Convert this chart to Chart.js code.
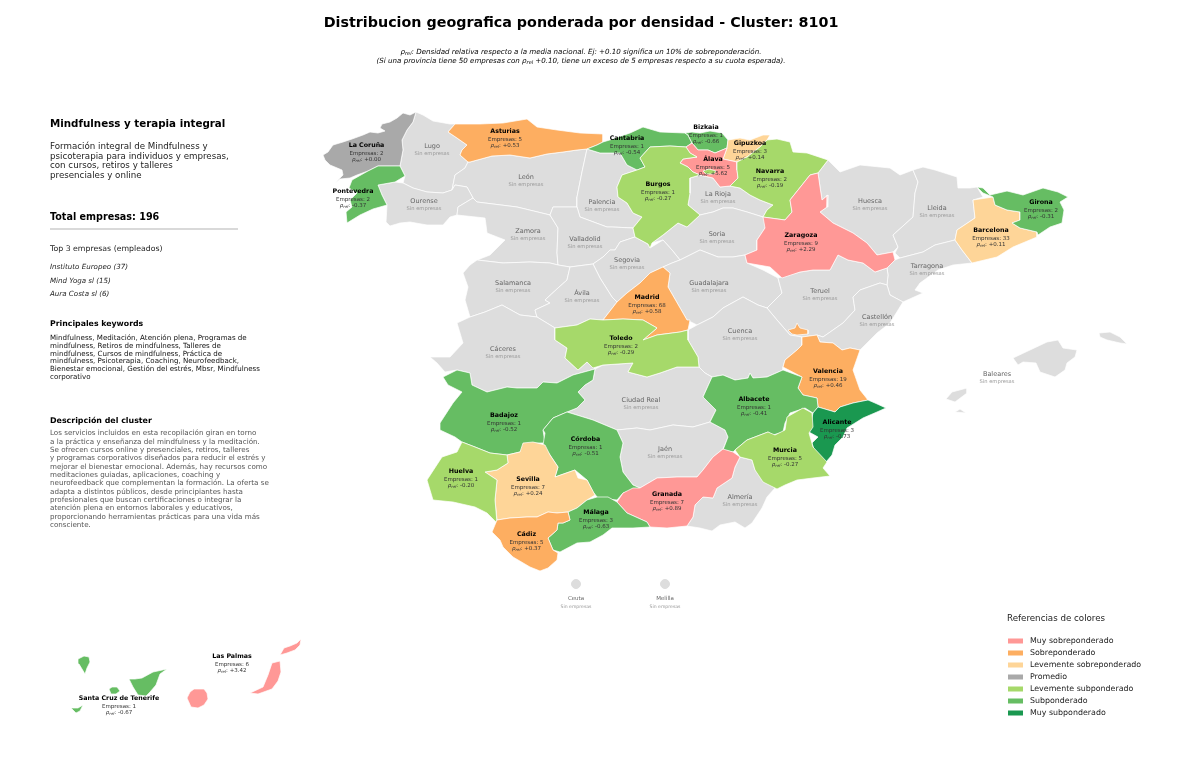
<!DOCTYPE html>
<html>
<head>
<meta charset="utf-8">
<title>Cluster 8101</title>
<style>
    html, body { margin: 0; padding: 0; background: #fff; }
    canvas { display: block; }
</style>
<script src="https://cdn.jsdelivr.net/npm/chart.js@4"></script>
</head>
<body>
<canvas id="mapChart" width="1200" height="761"></canvas>
<script>
const classNames = ['Muy sobreponderado', 'Sobreponderado', 'Levemente sobreponderado', 'Promedio', 'Levemente subponderado', 'Subponderado', 'Muy subponderado']
const classColors = ['#ff9896', '#fdae61', '#fed598', '#a9a9a9', '#a6d96a', '#66bd63', '#1a9850']
const emptyColor = '#dddddd'

// provinces with companies
const activeNames = ['La Coruña', 'Pontevedra', 'Asturias', 'Cantabria', 'Bizkaia', 'Gipuzkoa', 'Álava', 'Navarra', 'Burgos', 'Zaragoza', 'Barcelona', 'Girona', 'Madrid', 'Toledo', 'Valencia', 'Albacete', 'Alicante', 'Murcia', 'Badajoz', 'Córdoba', 'Sevilla', 'Huelva', 'Granada', 'Málaga', 'Cádiz', 'Las Palmas', 'Santa Cruz de Tenerife']
const activeCompanies = [2, 2, 5, 1, 1, 3, 5, 2, 1, 9, 33, 2, 68, 2, 19, 1, 3, 5, 1, 1, 7, 1, 7, 3, 5, 6, 1]
const activeRho = [0.00, -0.37, 0.53, -0.54, -0.66, 0.14, 5.62, -0.19, -0.27, 2.29, 0.11, -0.31, 0.58, -0.29, 0.46, -0.41, -0.73, -0.27, -0.52, -0.51, 0.24, -0.20, 0.89, -0.63, 0.37, 3.42, -0.67]
const activeClass = [3, 5, 1, 5, 5, 2, 0, 4, 4, 0, 2, 5, 1, 4, 1, 5, 6, 4, 5, 5, 2, 4, 0, 5, 1, 0, 5]

const emptyNames = ['Lugo', 'León', 'Ourense', 'Palencia', 'La Rioja', 'Huesca', 'Lleida', 'Zamora', 'Valladolid', 'Soria', 'Segovia', 'Tarragona', 'Salamanca', 'Ávila', 'Guadalajara', 'Teruel', 'Castellón', 'Cuenca', 'Cáceres', 'Ciudad Real', 'Jaén', 'Almería', 'Baleares', 'Ceuta', 'Melilla']

// outlines
const laCoruna = [[416,112],[410,115],[403,113],[397,118],[390,122],[382,124],[380,128],[385,131],[378,133],[370,132],[363,135],[352,139],[343,142],[333,145],[328,152],[323,155],[325,160],[330,165],[342,170],[343,175],[335,183],[340,179],[350,178],[357,175],[368,171],[378,166],[400,166],[403,150],[402,140],[407,130],[413,122]]
const pontevedra = [[378,166],[400,166],[405,176],[395,182],[378,185],[382,195],[387,205],[373,209],[360,215],[347,223],[346,212],[352,207],[350,200],[357,193],[349,188],[352,180],[368,171]]
const lugo = [[416,112],[423,115],[433,121],[450,124],[455,124],[448,132],[457,138],[467,145],[462,150],[460,155],[468,162],[465,168],[455,175],[452,190],[443,193],[427,192],[413,188],[403,183],[405,176],[400,166],[403,150],[402,140],[407,130],[413,122]]
const ourense = [[403,183],[413,188],[427,192],[443,193],[452,190],[455,185],[467,187],[473,198],[458,207],[457,215],[450,217],[443,225],[427,225],[410,222],[400,223],[390,226],[386,222],[387,205],[382,195],[378,185],[395,182]]
const asturias = [[448,132],[455,124],[480,124],[503,123],[527,119],[537,127],[557,130],[580,133],[603,134],[603,142],[597,145],[587,149],[577,150],[563,152],[547,154],[530,158],[510,155],[492,156],[470,162],[468,162],[460,155],[462,150],[467,145],[457,138]]
const cantabria = [[587,149],[597,145],[603,142],[613,139],[630,133],[643,127],[660,132],[685,133],[688,135],[692,143],[686,147],[670,146],[650,147],[640,158],[645,167],[637,170],[627,165],[620,153],[600,153]]
const bizkaia = [[685,133],[692,132],[700,133],[710,131],[722,133],[728,140],[727,148],[715,153],[708,150],[698,150],[692,143],[688,135]]
const gipuzkoa = [[728,140],[740,138],[750,140],[763,135],[770,135],[767,140],[760,147],[747,157],[737,162],[723,159],[727,148]]
const navarra = [[767,140],[777,139],[790,142],[793,152],[807,153],[828,160],[818,173],[810,175],[798,190],[790,200],[792,212],[785,220],[763,217],[767,210],[773,205],[760,200],[750,195],[740,188],[730,186],[738,178],[737,170],[737,162],[747,157],[760,147]]
const alava = [[686,147],[692,143],[698,150],[708,150],[715,153],[727,148],[723,159],[737,162],[737,170],[738,178],[730,186],[720,187],[713,178],[700,175],[693,172],[688,167],[680,163],[683,159],[697,157],[690,153]]
const trevino = [[703,171],[709,169],[716,171],[714,174],[706,174]]
const laRioja = [[690,178],[700,175],[713,178],[720,187],[730,186],[740,188],[750,195],[760,200],[773,205],[767,210],[763,217],[747,212],[733,208],[723,208],[713,212],[700,215],[688,205],[690,193]]
const burgos = [[640,158],[650,147],[670,146],[686,147],[690,153],[697,157],[683,159],[680,163],[688,167],[693,172],[700,175],[690,178],[690,193],[688,205],[700,215],[687,227],[678,223],[663,235],[652,243],[650,248],[648,244],[635,237],[633,228],[642,217],[633,213],[627,203],[618,197],[617,187],[622,175],[637,170],[645,167]]
const leon = [[468,162],[470,162],[492,156],[510,155],[530,158],[547,154],[563,152],[577,150],[587,149],[582,172],[577,197],[577,207],[553,207],[550,215],[517,207],[477,202],[473,198],[467,187],[455,185],[452,190],[455,175],[465,168]]
const palencia = [[587,149],[600,153],[620,153],[627,165],[637,170],[622,175],[617,187],[618,197],[627,203],[633,213],[642,217],[633,228],[612,227],[607,227],[580,217],[577,207],[577,197],[582,172]]
const valladolid = [[553,207],[577,207],[580,217],[607,227],[612,227],[633,228],[635,237],[620,242],[615,250],[610,250],[603,257],[593,264],[570,267],[558,265],[557,253],[558,228],[550,215]]
const zamora = [[473,198],[477,202],[517,207],[550,215],[558,228],[557,253],[558,265],[550,263],[530,262],[503,263],[477,260],[490,255],[505,240],[487,233],[486,225],[485,218],[457,215],[458,207]]
const salamanca = [[463,273],[470,265],[477,260],[503,263],[530,262],[550,263],[558,265],[570,267],[567,280],[558,288],[545,300],[550,303],[535,310],[537,317],[520,315],[502,305],[485,312],[470,317],[465,300],[468,287]]
const avila = [[570,267],[593,264],[600,278],[612,297],[617,302],[603,320],[590,319],[577,325],[555,328],[537,317],[535,310],[550,303],[545,300],[558,288],[567,280]]
const segovia = [[593,264],[603,257],[610,250],[615,250],[620,242],[635,237],[648,244],[650,248],[663,240],[672,250],[680,260],[672,263],[663,267],[650,273],[640,283],[627,293],[617,302],[612,297],[600,278]]
const madrid = [[663,267],[670,273],[668,287],[687,320],[690,320],[688,330],[680,332],[657,335],[643,340],[657,328],[643,320],[623,319],[603,320],[617,302],[627,293],[640,283],[650,273]]
const soria = [[687,227],[700,215],[713,212],[723,208],[733,208],[747,212],[763,217],[767,223],[765,228],[757,240],[757,250],[745,255],[733,257],[718,257],[700,250],[680,260],[672,250],[663,240],[652,243],[663,235],[678,223]]
const guadalajara = [[663,267],[672,263],[680,260],[700,250],[718,257],[733,257],[745,255],[747,263],[763,270],[778,278],[782,293],[767,308],[758,305],[743,297],[723,308],[713,317],[697,325],[687,320],[668,287],[670,273]]
const zaragoza = [[818,173],[820,187],[822,200],[828,195],[827,207],[820,212],[833,223],[853,233],[867,243],[877,255],[893,252],[895,260],[887,268],[875,272],[863,263],[848,260],[838,255],[830,270],[813,270],[800,272],[782,278],[770,267],[747,263],[745,255],[757,250],[757,240],[765,228],[763,217],[785,220],[792,212],[790,200],[798,190],[810,175]]
const huesca = [[828,160],[840,172],[860,165],[890,168],[900,175],[913,170],[918,182],[915,193],[913,217],[893,235],[898,247],[893,252],[877,255],[867,243],[853,233],[833,223],[820,212],[827,207],[828,195],[822,200],[820,187],[818,173]]
const lleida = [[913,170],[923,167],[935,170],[957,177],[958,188],[970,188],[977,187],[983,197],[973,200],[975,218],[957,230],[955,240],[935,245],[923,252],[900,258],[895,253],[898,247],[893,235],[913,217],[915,193],[918,182]]
const tarragona = [[895,260],[900,258],[923,252],[935,245],[955,240],[962,250],[972,263],[953,265],[938,270],[920,283],[915,290],[923,293],[903,302],[890,295],[887,285],[888,275],[887,268]]
const barcelona = [[973,200],[993,197],[995,205],[1007,210],[1020,212],[1020,220],[1012,223],[1020,228],[1037,232],[1037,237],[1013,247],[997,257],[972,263],[962,250],[955,240],[957,230],[975,218]]
const girona = [[977,187],[983,188],[990,195],[1007,191],[1023,195],[1043,188],[1058,192],[1068,197],[1060,202],[1064,210],[1062,223],[1050,227],[1038,235],[1037,232],[1020,228],[1012,223],[1020,220],[1020,212],[1007,210],[995,205],[993,197],[983,193]]
const teruel = [[778,278],[800,272],[813,270],[830,270],[838,255],[848,260],[863,263],[875,272],[887,268],[888,275],[887,285],[880,283],[860,290],[853,297],[855,310],[843,323],[823,337],[817,335],[802,337],[790,335],[777,320],[767,308],[782,293]]
const ademuz = [[788,330],[795,328],[797,323],[800,328],[808,330],[808,334],[797,335],[792,334]]
const castellon = [[860,290],[880,283],[887,285],[890,295],[903,302],[890,323],[877,333],[867,343],[860,350],[850,348],[842,350],[833,343],[820,342],[817,335],[823,337],[843,323],[855,310],[853,297]]
const valencia = [[802,337],[817,335],[820,342],[833,343],[842,350],[850,348],[860,350],[853,370],[860,390],[868,400],[853,403],[840,407],[835,412],[818,407],[817,398],[803,395],[798,388],[802,377],[783,367],[785,360],[797,350],[802,345]]
const cuenca = [[688,330],[697,325],[713,317],[723,308],[743,297],[758,305],[767,308],[777,320],[790,335],[802,337],[802,345],[797,350],[785,360],[783,367],[783,370],[767,377],[753,378],[750,373],[748,378],[735,380],[723,375],[712,377],[705,373],[699,367],[698,357],[688,340]]
const toledo = [[555,328],[577,325],[590,319],[603,320],[623,319],[643,320],[657,328],[643,340],[657,335],[680,332],[688,330],[688,340],[698,357],[699,367],[677,367],[660,373],[647,377],[628,372],[633,363],[603,365],[593,368],[587,362],[578,370],[565,358],[567,348],[555,340]]
const caceres = [[470,317],[485,312],[502,305],[520,315],[537,317],[555,328],[555,340],[567,348],[565,358],[578,370],[587,362],[595,369],[573,375],[557,383],[543,382],[537,388],[517,388],[507,387],[487,392],[472,385],[470,373],[457,370],[445,372],[437,363],[430,357],[450,357],[463,343],[457,323]]
const badajoz = [[443,377],[457,370],[470,373],[472,385],[487,392],[507,387],[517,388],[537,388],[543,382],[557,383],[573,375],[595,369],[593,380],[585,385],[578,392],[585,400],[577,408],[567,412],[553,418],[543,430],[545,443],[533,443],[520,452],[507,455],[490,453],[475,447],[462,442],[455,437],[440,430],[440,423],[453,403],[462,392],[448,385]]
const ciudadReal = [[595,369],[603,365],[633,363],[628,372],[647,377],[660,373],[677,367],[699,367],[705,373],[712,377],[703,397],[716,410],[710,422],[693,427],[673,425],[650,430],[637,428],[617,430],[593,420],[567,412],[577,408],[585,400],[578,392],[585,385],[593,380]]
const albacete = [[712,377],[723,375],[735,380],[748,378],[750,373],[753,378],[767,377],[783,370],[802,377],[798,388],[803,395],[817,398],[818,407],[813,413],[805,408],[790,413],[785,423],[783,432],[773,435],[768,432],[747,440],[735,450],[733,452],[723,450],[728,437],[725,430],[710,422],[716,410],[703,397]]
const jaen = [[617,430],[637,428],[650,430],[673,425],[693,427],[710,422],[725,430],[728,437],[723,449],[713,457],[703,470],[697,477],[677,477],[657,478],[640,488],[633,485],[623,472],[620,457],[623,443]]
const granada = [[617,502],[623,493],[633,488],[640,488],[657,478],[677,477],[697,477],[703,470],[713,457],[723,449],[733,452],[740,457],[735,467],[732,478],[717,488],[713,498],[703,497],[695,505],[693,517],[687,526],[667,528],[650,527],[647,522],[627,513]]
const almeria = [[740,457],[752,460],[755,470],[762,478],[775,488],[767,497],[762,508],[752,523],[745,528],[735,522],[720,525],[712,531],[700,528],[687,526],[693,517],[695,505],[703,497],[713,498],[717,488],[732,478],[735,467]]
const murcia = [[735,450],[747,440],[768,432],[775,435],[785,430],[787,417],[803,408],[812,413],[813,427],[809,433],[813,447],[827,462],[823,468],[830,476],[813,478],[797,480],[785,485],[777,489],[763,482],[755,470],[752,460],[740,457]]
const alicante = [[818,407],[835,412],[840,407],[853,403],[868,400],[875,403],[886,408],[877,412],[863,418],[847,428],[843,437],[835,445],[832,455],[826,462],[815,453],[812,443],[818,437],[809,432],[813,413]]
const cordoba = [[567,412],[593,420],[617,430],[623,443],[620,457],[623,472],[633,485],[640,488],[623,493],[617,500],[598,498],[593,492],[587,480],[575,470],[555,477],[558,467],[550,455],[543,445],[545,433],[543,430],[553,418]]
const huelva = [[462,442],[475,447],[490,453],[507,455],[508,463],[497,470],[485,472],[497,480],[495,500],[497,523],[487,513],[475,507],[453,502],[433,500],[427,480],[442,457],[457,452]]
const sevilla = [[485,472],[497,470],[508,463],[507,455],[520,452],[523,443],[533,442],[545,445],[550,455],[558,467],[555,477],[575,470],[578,478],[587,480],[595,495],[587,500],[577,508],[568,512],[557,513],[548,512],[537,517],[527,517],[510,518],[497,520],[495,500],[497,480]]
const cadiz = [[497,520],[510,518],[527,517],[537,517],[548,512],[557,513],[568,512],[570,520],[563,523],[558,523],[557,530],[548,538],[553,550],[558,553],[557,560],[548,568],[540,571],[530,567],[513,557],[503,547],[500,540],[492,532]]
const malaga = [[568,512],[577,508],[587,500],[597,497],[608,497],[617,502],[627,513],[647,522],[650,527],[633,528],[612,528],[603,535],[590,542],[577,543],[560,552],[553,550],[548,538],[557,530],[558,523],[563,523],[570,520]]
const mallorca = [[1013,358],[1030,350],[1047,342],[1058,340],[1063,348],[1077,350],[1075,357],[1067,363],[1065,370],[1055,377],[1040,372],[1036,363],[1023,362],[1018,365]]
const menorca = [[1099,333],[1110,332],[1120,337],[1127,344],[1120,343],[1107,340],[1100,337]]
const ibiza = [[946,399],[952,392],[967,388],[967,393],[955,402]]
const formentera = [[955,412],[960,409],[966,413]]
const laPalma = [[78,659],[84,656],[89,657],[90,662],[87,668],[85,674],[82,669],[79,664]]
const gomera = [[109,689],[112,687],[117,687],[120,691],[116,694],[111,694]]
const hierro = [[71,708],[78,708],[83,705],[80,711],[76,713],[73,710]]
const tenerife = [[129,679],[135,679],[142,678],[153,672],[167,669],[160,674],[156,685],[150,692],[146,696],[138,695],[133,687]]
const granCanaria = [[187,698],[190,692],[194,689],[204,689],[207,693],[208,699],[204,705],[198,708],[191,707]]
const fuerteventura = [[250,693],[263,687],[268,675],[272,663],[280,661],[281,672],[278,681],[272,689],[258,694]]
const lanzarote = [[280,655],[284,648],[290,646],[297,643],[301,639],[300,645],[295,650],[287,653]]
const enclaves = [[576,584], [665,584]]

// which outlines belong to which province
const emptyShapes = [lugo, leon, ourense, palencia, laRioja, huesca, lleida, zamora, valladolid, soria, segovia, tarragona, salamanca, avila, guadalajara, teruel, castellon, cuenca, caceres, ciudadReal, jaen, almeria, mallorca, menorca, ibiza, formentera]
const activeShapes = [[laCoruna], [pontevedra], [asturias], [cantabria], [bizkaia], [gipuzkoa], [alava], [navarra], [burgos, trevino], [zaragoza], [barcelona], [girona], [madrid], [toledo], [valencia, ademuz], [albacete], [alicante], [murcia], [badajoz], [cordoba], [sevilla], [huelva], [granada], [malaga], [cadiz], [granCanaria, fuerteventura, lanzarote], [tenerife, laPalma, gomera, hierro]]

const activeLabelSpots = [[366.5,145],[353,191],[505,131],[627,138],[706,127],[750,143],[713,159],[770,171],[658,184],[801,235],[991,230],[1041,202],[647,297],[621,338],[828,371],[754,399],[837,422],[785,450],[504,415],[585.5,439],[528,479],[461,471],[667,494],[596,512],[526.5,534],[232,656],[119,698]]
const emptyLabelSpots = [[432,146],[526,177],[424,201],[602,202],[718,194],[870,201],[937,208],[528,231],[585,239],[717,234],[627,260],[927,266],[513,283],[582,293],[709,283],[820,291],[877,317],[740,331],[503,349],[641,400],[665,449],[740,497],[997,374],[576,599],[665,599]]

const sideTexts = [
    ['Mindfulness y terapia integral', 50, 124, 'bold 10.3px', '#000'],
    ['Formación integral de Mindfulness y', 50, 147, '8.7px', '#222'],
    ['psicoterapia para individuos y empresas,', 50, 156.5, '8.7px', '#222'],
    ['con cursos, retiros y talleres', 50, 166, '8.7px', '#222'],
    ['presenciales y online', 50, 175.5, '8.7px', '#222'],
    ['Total empresas: 196', 50, 217, 'bold 9.6px', '#000'],
    ['Top 3 empresas (empleados)', 50, 249, '7.8px', '#222'],
    ['Instituto Europeo (37)', 50, 267, 'italic 7.1px', '#222'],
    ['Mind Yoga sl (15)', 50, 281, 'italic 7.1px', '#222'],
    ['Aura Costa sl (6)', 50, 294, 'italic 7.1px', '#222'],
    ['Principales keywords', 50, 324, 'bold 7.8px', '#000'],
    ['Mindfulness, Meditación, Atención plena, Programas de', 50, 338, '7.1px', '#111'],
    ['mindfulness, Retiros de mindfulness, Talleres de', 50, 346, '7.1px', '#111'],
    ['mindfulness, Cursos de mindfulness, Práctica de', 50, 354, '7.1px', '#111'],
    ['mindfulness, Psicoterapia, Coaching, Neurofeedback,', 50, 361.5, '7.1px', '#111'],
    ['Bienestar emocional, Gestión del estrés, Mbsr, Mindfulness', 50, 369.5, '7.1px', '#111'],
    ['corporativo', 50, 377, '7.1px', '#111'],
    ['Descripción del cluster', 50, 421, 'bold 7.9px', '#000'],
    ['Los servicios incluidos en esta recopilación giran en torno', 50, 433.5, '7.15px', '#555'],
    ['a la práctica y enseñanza del mindfulness y la meditación.', 50, 442, '7.15px', '#555'],
    ['Se ofrecen cursos online y presenciales, retiros, talleres', 50, 450, '7.15px', '#555'],
    ['y programas corporativos diseñados para reducir el estrés y', 50, 458.5, '7.15px', '#555'],
    ['mejorar el bienestar emocional. Además, hay recursos como', 50, 467, '7.15px', '#555'],
    ['meditaciones guiadas, aplicaciones, coaching y', 50, 475, '7.15px', '#555'],
    ['neurofeedback que complementan la formación. La oferta se', 50, 483.5, '7.15px', '#555'],
    ['adapta a distintos públicos, desde principiantes hasta', 50, 492, '7.15px', '#555'],
    ['profesionales que buscan certificaciones o integrar la', 50, 500, '7.15px', '#555'],
    ['atención plena en entornos laborales y educativos,', 50, 508.5, '7.15px', '#555'],
    ['proporcionando herramientas prácticas para una vida más', 50, 517, '7.15px', '#555'],
    ['consciente.', 50, 525, '7.15px', '#555'],
    ['Referencias de colores', 1007, 619, '8.7px', '#222']
]

const FONT = '"DejaVu Sans"'

function outlineDataset(points, color, index) {
    const closed = points.concat([points[0]])
    return {
        data: closed.map(p => ({ x: p[0], y: p[1] })),
        showLine: true,
        fill: 'shape',
        backgroundColor: color,
        borderColor: '#ffffff',
        borderWidth: 0.7,
        pointRadius: 0,
        tension: 0,
        order: -index
    }
}

function buildDatasets() {
    const datasets = []
    emptyShapes.forEach(shape => datasets.push(outlineDataset(shape, emptyColor, datasets.length)))
    activeShapes.forEach((shapes, i) => {
        shapes.forEach(shape => datasets.push(outlineDataset(shape, classColors[activeClass[i]], datasets.length)))
    })
    datasets.push({
        data: enclaves.map(p => ({ x: p[0], y: p[1] })),
        showLine: false,
        pointRadius: 4.5,
        pointBackgroundColor: emptyColor,
        pointBorderColor: emptyColor,
        order: -datasets.length
    })
    return datasets
}

// text with the rho-rel symbol in it, the subscript needs its own run
function drawRho(ctx, text, x, y, size, color, italic) {
    const parts = text.split('ρrel')
    const plain = (italic ? 'italic ' : '') + size + 'px ' + FONT
    const rhoFont = 'italic ' + size + 'px ' + FONT
    const subFont = 'italic ' + (size * 0.7) + 'px ' + FONT
    let width = 0
    ctx.font = plain
    parts.forEach(p => { width += ctx.measureText(p).width })
    ctx.font = rhoFont
    const rhoWidth = ctx.measureText('ρ').width
    ctx.font = subFont
    const subWidth = ctx.measureText('rel').width
    width += (parts.length - 1) * (rhoWidth + subWidth)

    let cx = x - width / 2
    ctx.fillStyle = color
    ctx.textAlign = 'left'
    parts.forEach((p, i) => {
        ctx.font = plain
        ctx.fillText(p, cx, y)
        cx += ctx.measureText(p).width
        if (i < parts.length - 1) {
            ctx.font = rhoFont
            ctx.fillText('ρ', cx, y)
            cx += rhoWidth
            ctx.font = subFont
            ctx.fillText('rel', cx, y + size * 0.25)
            cx += subWidth
        }
    })
}

function formatRho(value) {
    return (value >= 0 ? '+' : '-') + Math.abs(value).toFixed(2)
}

const labelsPlugin = {
    id: 'mapLabels',
    afterDatasetsDraw(chart) {
        const ctx = chart.ctx
        const xs = chart.scales.x
        const ys = chart.scales.y
        ctx.save()
        ctx.textBaseline = 'middle'

        // title block
        ctx.textAlign = 'center'
        ctx.fillStyle = '#000'
        ctx.font = 'bold 14.3px ' + FONT
        ctx.fillText('Distribucion geografica ponderada por densidad - Cluster: 8101', xs.getPixelForValue(581), ys.getPixelForValue(23))
        drawRho(ctx, 'ρrel: Densidad relativa respecto a la media nacional. Ej: +0.10 significa un 10% de sobreponderación.', xs.getPixelForValue(581), ys.getPixelForValue(52), 7.1, '#000', true)
        drawRho(ctx, '(Si una provincia tiene 50 empresas con ρrel +0.10, tiene un exceso de 5 empresas respecto a su cuota esperada).', xs.getPixelForValue(581), ys.getPixelForValue(61), 7.1, '#000', true)

        // provinces without companies
        emptyNames.forEach((name, i) => {
            const x = xs.getPixelForValue(emptyLabelSpots[i][0])
            const y = ys.getPixelForValue(emptyLabelSpots[i][1])
            const small = name === 'Ceuta' || name === 'Melilla'
            ctx.textAlign = 'center'
            ctx.fillStyle = '#666'
            ctx.font = (small ? '5.5px ' : '6.5px ') + FONT
            ctx.fillText(name, x, y)
            ctx.fillStyle = '#999'
            ctx.font = (small ? '4.6px ' : '5.2px ') + FONT
            ctx.fillText('Sin empresas', x, y + 7.3)
        })

        // provinces with companies
        activeNames.forEach((name, i) => {
            const x = xs.getPixelForValue(activeLabelSpots[i][0])
            const y = ys.getPixelForValue(activeLabelSpots[i][1])
            ctx.textAlign = 'center'
            ctx.fillStyle = '#000'
            ctx.font = 'bold 6.3px ' + FONT
            ctx.fillText(name, x, y)
            ctx.fillStyle = '#333'
            ctx.font = '5.5px ' + FONT
            ctx.fillText('Empresas: ' + activeCompanies[i], x, y + 8.8)
            drawRho(ctx, 'ρrel: ' + formatRho(activeRho[i]), x, y + 14.8, 5.5, '#333', false)
        })

        // side panel
        ctx.textAlign = 'left'
        sideTexts.forEach(t => {
            ctx.fillStyle = t[4]
            ctx.font = t[3] + ' ' + FONT
            ctx.fillText(t[0], xs.getPixelForValue(t[1]), ys.getPixelForValue(t[2]))
        })
        ctx.strokeStyle = '#cccccc'
        ctx.lineWidth = 1.5
        ctx.beginPath()
        ctx.moveTo(xs.getPixelForValue(50), ys.getPixelForValue(229))
        ctx.lineTo(xs.getPixelForValue(238), ys.getPixelForValue(229))
        ctx.stroke()

        // colour references
        classNames.forEach((name, i) => {
            const y = ys.getPixelForValue(641 + i * 12)
            ctx.fillStyle = classColors[i]
            ctx.fillRect(xs.getPixelForValue(1008), y - 2.5, 15, 5)
            ctx.fillStyle = '#222'
            ctx.font = '7.9px ' + FONT
            ctx.fillText(name, xs.getPixelForValue(1030), y)
        })
        ctx.restore()
    }
}

const myChart = new Chart(document.getElementById('mapChart'), {
    type: 'scatter',
    data: { datasets: buildDatasets() },
    options: {
        responsive: false,
        animation: false,
        layout: { padding: 0, autoPadding: false },
        plugins: {
            legend: { display: false },
            tooltip: { enabled: false },
            title: { display: false }
        },
        scales: {
            x: { type: 'linear', min: 0, max: 1200, display: false },
            y: { type: 'linear', min: 0, max: 761, reverse: true, display: false }
        }
    },
    plugins: [labelsPlugin]
})
</script>
</body>
</html>
